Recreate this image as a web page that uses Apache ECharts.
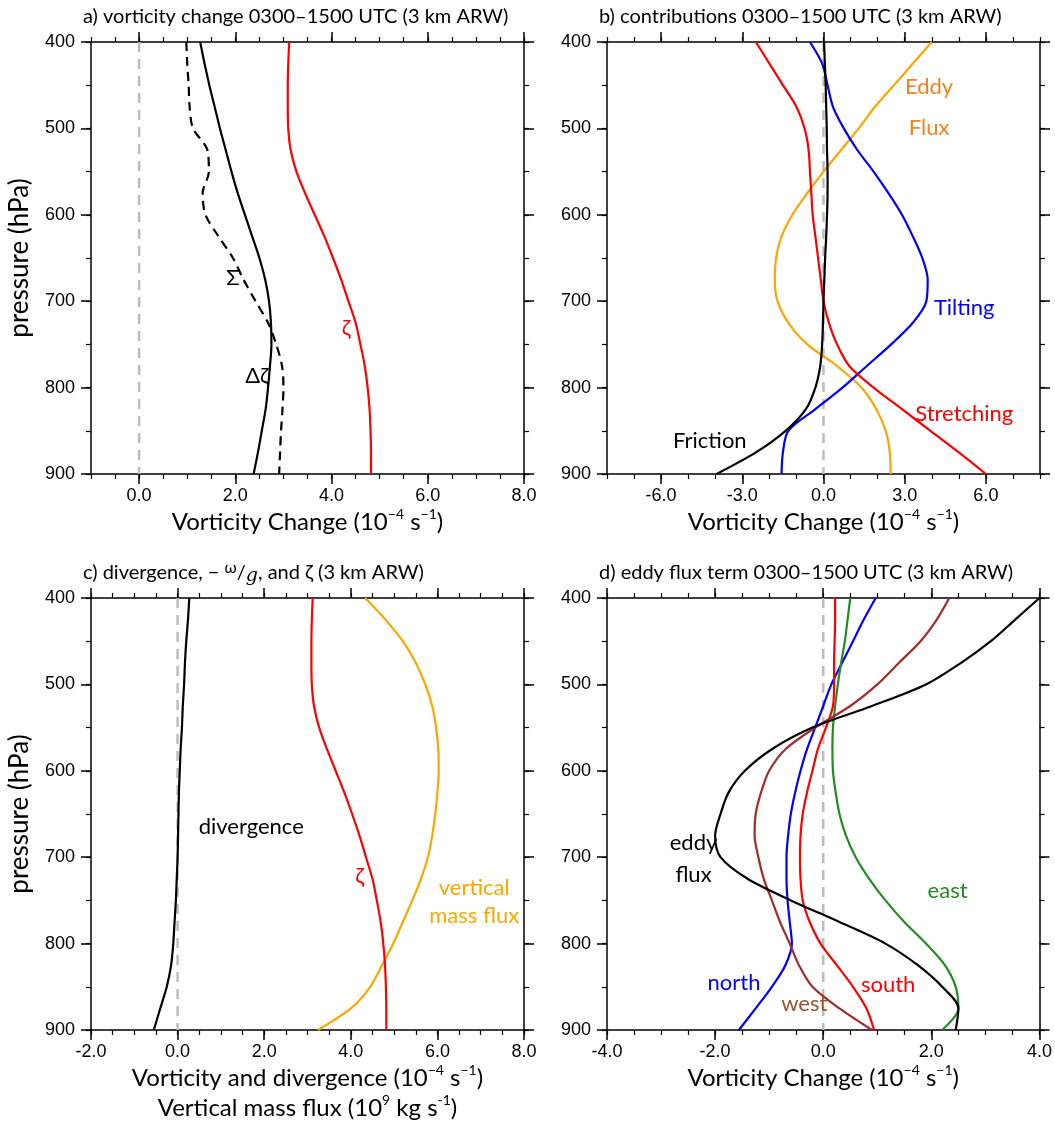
<!DOCTYPE html>
<html>
<head>
<meta charset="utf-8">
<script src="https://cdn.jsdelivr.net/npm/echarts@6/dist/echarts.min.js"></script>
<style>
html,body{margin:0;padding:0;background:#fff;}
#chart{width:1055px;height:1131px;}
</style>
</head>
<body>
<div id="chart"></div>
<script>
// ---------- DATA ----------
const levels = [400,425,450,475,500,525,550,575,600,625,650,675,700,725,750,775,800,825,850,875,900];

// panel a
const aDeltaZeta = [1.27,1.36,1.46,1.57,1.68,1.8,1.92,2.05,2.2,2.35,2.5,2.62,2.7,2.74,2.75,2.72,2.68,2.63,2.55,2.47,2.38];
const aSigma     = [0.98,1.0,1.03,1.05,1.12,1.42,1.45,1.32,1.38,1.65,1.95,2.17,2.42,2.68,2.85,2.97,3.0,2.98,2.95,2.93,2.91];
const zeta       = [3.12,3.1,3.09,3.09,3.1,3.15,3.27,3.45,3.65,3.85,4.03,4.2,4.35,4.5,4.6,4.69,4.75,4.79,4.81,4.82,4.82];

// panel b
const bFriction   = [0.02,0.05,0.08,0.1,0.12,0.13,0.15,0.15,0.13,0.1,0.06,0.03,0.0,-0.02,-0.05,-0.12,-0.3,-0.65,-1.4,-2.5,-3.95];
const bTilting    = [-0.5,-0.05,0.15,0.35,0.75,1.25,1.85,2.4,2.9,3.3,3.65,3.85,3.8,3.3,2.5,1.6,0.7,-0.3,-1.3,-1.5,-1.55];
const bStretching = [-2.5,-2.0,-1.5,-1.0,-0.7,-0.55,-0.5,-0.45,-0.4,-0.3,-0.2,-0.1,0.0,0.2,0.5,0.95,1.85,2.9,3.95,5.0,6.0];
const bEddyFlux   = [4.0,3.3,2.6,1.9,1.3,0.65,0.0,-0.6,-1.15,-1.55,-1.75,-1.8,-1.7,-1.3,-0.6,0.5,1.4,1.95,2.3,2.45,2.48];

// panel c
const cDivergence = [0.27,0.24,0.2,0.17,0.15,0.12,0.1,0.07,0.05,0.03,0.02,0.01,0.0,-0.02,-0.04,-0.07,-0.1,-0.15,-0.25,-0.4,-0.55];
const cMassFlux   = [4.33,4.8,5.2,5.5,5.72,5.88,5.97,6.02,6.03,6.0,5.95,5.88,5.78,5.62,5.42,5.2,4.98,4.72,4.45,4.0,3.24];

// panel d
const dEddy  = [4.0,3.55,3.1,2.55,1.9,0.9,-0.2,-0.95,-1.45,-1.75,-1.9,-2.0,-1.9,-1.4,-0.6,0.3,1.15,1.75,2.2,2.5,2.45];
const dNorth = [0.97,0.75,0.55,0.35,0.15,0.0,-0.15,-0.3,-0.42,-0.52,-0.6,-0.65,-0.68,-0.68,-0.66,-0.62,-0.58,-0.7,-0.95,-1.25,-1.56];
const dEast  = [0.5,0.45,0.4,0.33,0.27,0.22,0.18,0.17,0.18,0.23,0.3,0.42,0.6,0.85,1.15,1.5,1.9,2.25,2.45,2.5,2.2];
const dSouth = [0.22,0.22,0.21,0.2,0.2,0.18,0.05,-0.1,-0.2,-0.3,-0.38,-0.42,-0.43,-0.42,-0.38,-0.25,-0.05,0.25,0.55,0.8,0.94];
const dWest  = [2.33,2.1,1.8,1.4,1.0,0.5,-0.15,-0.7,-1.0,-1.15,-1.25,-1.27,-1.2,-1.1,-0.95,-0.8,-0.62,-0.45,-0.2,0.3,0.9];

// axis ticks
const aTicks = [0,2,4,6,8];
const bTicks = [-6,-3,0,3,6];
const cTicks = [-2,0,2,4,6,8];
const dTicks = [-4,-2,0,2,4];

// in-plot annotations: [text, x value, pressure, color]
const aLabels = [["Σ",1.95,673,"#000000"],["Δζ",2.45,787,"#000000"],["ζ",4.3,731,"#ff0000"]];
const bLabels = [["Eddy",3.9,452,"#f7801e"],["Flux",3.9,500,"#f7801e"],["Tilting",5.2,708,"#0000ff"],["Stretching",5.2,830,"#ff0000"],["Friction",-4.2,862,"#000000"]];
const cLabels = [["divergence",1.7,665,"#000000"],["ζ",4.2,722,"#ff0000"],["vertical",6.85,735,"#ffa500"],["mass flux",6.85,768,"#ffa500"]];
const dLabels = [["eddy",-2.4,683,"#000000"],["flux",-2.4,720,"#000000"],["north",-1.65,846,"#0000ff"],["west",-0.35,870,"#a0522d"],["south",1.2,848,"#ff0000"],["east",2.3,739,"#228b22"]];

// ---------- LAYOUT ----------
const grids = [
  {left:91, top:42, width:433, height:432},
  {left:607, top:42, width:433, height:432},
  {left:91, top:598, width:433, height:432},
  {left:607, top:598, width:433, height:432}
];
const xRanges = [
  {min:-1, max:8, ticks:aTicks, minor:0.5},
  {min:-8, max:8, ticks:bTicks, minor:1},
  {min:-2, max:8, ticks:cTicks, minor:0.5},
  {min:-4, max:4, ticks:dTicks, minor:0.5}
];
const sansUI = "Lato, 'Open Sans', sans-serif";
const tickFont = "'Liberation Sans', Arial, sans-serif";
const supStyle = {fontSize:14, verticalAlign:'top', padding:[0,0,9,0], fontFamily:sansUI, color:'#000'};
const nameRich = {sup:supStyle};

const xNames = [
  "Vorticity Change (10{sup|−4} s{sup|−1})",
  "Vorticity Change (10{sup|−4} s{sup|−1})",
  "Vorticity and divergence (10{sup|−4} s{sup|−1})\nVertical mass flux (10{sup|9} kg s{sup|-1})",
  "Vorticity Change (10{sup|−4} s{sup|−1})"
];

const xAxes = [], yAxes = [];
const lineC = '#000';
for (let i=0;i<4;i++){
  const r = xRanges[i];
  xAxes.push({type:'value', gridIndex:i, position:'bottom', min:r.min, max:r.max,
    axisLine:{show:true, onZero:false, lineStyle:{color:lineC, width:1.5}},
    axisTick:{show:true, inside:false, length:10, customValues:r.ticks, lineStyle:{color:lineC, width:1.5}},
    axisLabel:{show:true, customValues:r.ticks, formatter:v=>v.toFixed(1), fontSize:18, fontFamily:tickFont, color:'#000', margin:13},
    splitLine:{show:false},
    name:xNames[i], nameLocation:'middle', nameGap: 33,
    nameTextStyle:{fontSize:24, fontFamily:sansUI, color:'#000', lineHeight:30, rich:nameRich}
  });
  xAxes.push({type:'value', gridIndex:i, position:'bottom', min:r.min, max:r.max, interval:r.minor,
    axisLine:{show:false, onZero:false}, axisTick:{show:true, length:5, lineStyle:{color:lineC, width:1.2}},
    axisLabel:{show:false}, splitLine:{show:false}});
  xAxes.push({type:'value', gridIndex:i, position:'top', min:r.min, max:r.max,
    axisLine:{show:true, onZero:false, lineStyle:{color:lineC, width:1.5}},
    axisTick:{show:true, length:10, customValues:r.ticks, lineStyle:{color:lineC, width:1.5}},
    axisLabel:{show:false}, splitLine:{show:false}});
  xAxes.push({type:'value', gridIndex:i, position:'top', min:r.min, max:r.max, interval:r.minor,
    axisLine:{show:false, onZero:false}, axisTick:{show:true, length:5, lineStyle:{color:lineC, width:1.2}},
    axisLabel:{show:false}, splitLine:{show:false}});

  const yName = (i===0||i===2) ? 'pressure (hPa)' : '';
  yAxes.push({type:'value', gridIndex:i, position:'left', inverse:true, min:400, max:900, interval:100,
    axisLine:{show:true, onZero:false, lineStyle:{color:lineC, width:1.5}},
    axisTick:{show:true, length:10, lineStyle:{color:lineC, width:1.5}},
    axisLabel:{show:true, fontSize:18, fontFamily:tickFont, color:'#000', margin:16},
    splitLine:{show:false},
    name:yName, nameLocation:'middle', nameGap:58,
    nameTextStyle:{fontSize:26, fontFamily:sansUI, color:'#000'}
  });
  yAxes.push({type:'value', gridIndex:i, position:'left', inverse:true, min:400, max:900, interval:50,
    axisLine:{show:false, onZero:false}, axisTick:{show:true, length:5, lineStyle:{color:lineC, width:1.2}},
    axisLabel:{show:false}, splitLine:{show:false}});
  yAxes.push({type:'value', gridIndex:i, position:'right', inverse:true, min:400, max:900, interval:100,
    axisLine:{show:true, onZero:false, lineStyle:{color:lineC, width:1.5}},
    axisTick:{show:true, length:10, lineStyle:{color:lineC, width:1.5}},
    axisLabel:{show:false}, splitLine:{show:false}});
  yAxes.push({type:'value', gridIndex:i, position:'right', inverse:true, min:400, max:900, interval:50,
    axisLine:{show:false, onZero:false}, axisTick:{show:true, length:5, lineStyle:{color:lineC, width:1.2}},
    axisLabel:{show:false}, splitLine:{show:false}});
}

const series = [];
function profile(panel, values, color, dashed){
  series.push({type:'line', xAxisIndex:panel*4, yAxisIndex:panel*4,
    data: values.map((v,k)=>[v, levels[k]]),
    smooth:0.3, symbol:'none', animation:false, z:3,
    lineStyle:{color:color, width:2.2, type: dashed ? [9,6] : 'solid'}});
}
function zeroLine(panel){
  series.push({type:'line', xAxisIndex:panel*4, yAxisIndex:panel*4,
    data:[[0,levels[0]],[0,levels[levels.length-1]]], symbol:'none', animation:false, z:2,
    lineStyle:{color:'#bdbdbd', width:2.5, type:[10,7]}});
}

zeroLine(0); zeroLine(1); zeroLine(2); zeroLine(3);
profile(0, aSigma, '#000', true);
profile(0, aDeltaZeta, '#000', false);
profile(0, zeta, '#ff0000', false);
profile(1, bEddyFlux, '#ffa500', false);
profile(1, bTilting, '#0000ff', false);
profile(1, bStretching, '#ff0000', false);
profile(1, bFriction, '#000', false);
profile(2, cMassFlux, '#ffa500', false);
profile(2, zeta, '#ff0000', false);
profile(2, cDivergence, '#000', false);
profile(3, dNorth, '#0000ff', false);
profile(3, dEast, '#228b22', false);
profile(3, dSouth, '#ff0000', false);
profile(3, dWest, '#a52a2a', false);
profile(3, dEddy, '#000', false);

const titleStyle = {fontSize:20, fontFamily:sansUI, fill:'#000'};
const titles = [
  {x:83, y:17, text:"a) vorticity change 0300–1500 UTC (3 km ARW)"},
  {x:599, y:17, text:"b) contributions 0300–1500 UTC (3 km ARW)"},
  {x:599, y:573, text:"d) eddy flux term 0300–1500 UTC (3 km ARW)"}
];
const graphic = titles.map(t=>({type:'text', x:t.x, y:t.y, style:Object.assign({text:t.text, align:'left', verticalAlign:'middle'}, titleStyle)}));
graphic.push({type:'text', x:83, y:573, style:{
  text:"c) divergence, − {sup|ω}/{sub|g}, and ζ (3 km ARW)", align:'left', verticalAlign:'middle',
  fontSize:20, fontFamily:sansUI, fill:'#000',
  rich:{sup:{fontSize:16, fontFamily:sansUI, verticalAlign:'top', padding:[0,0,7,0]}, sub:{fontSize:19, fontStyle:'italic', fontFamily:"'DejaVu Serif', serif", verticalAlign:'bottom', padding:[7,0,0,0]}}
}});

const chart = echarts.init(document.getElementById('chart'), null, {renderer:'canvas'});
chart.setOption({
  animation:false,
  backgroundColor:'#fff',
  grid: grids,
  xAxis: xAxes,
  yAxis: yAxes,
  series: series
});

// annotations positioned through the axes' own scales
const annotations = [];
[aLabels, bLabels, cLabels, dLabels].forEach((labels, panel)=>{
  labels.forEach(l=>{
    const pt = chart.convertToPixel({xAxisIndex:panel*4, yAxisIndex:panel*4}, [l[1], l[2]]);
    annotations.push({type:'text', x:pt[0], y:pt[1], z:10, silent:true,
      style:{text:l[0], fill:l[3], fontSize:22, fontFamily:sansUI, align:'center', verticalAlign:'middle'}});
  });
});
chart.setOption({graphic: graphic.concat(annotations)});
</script>
</body>
</html>
